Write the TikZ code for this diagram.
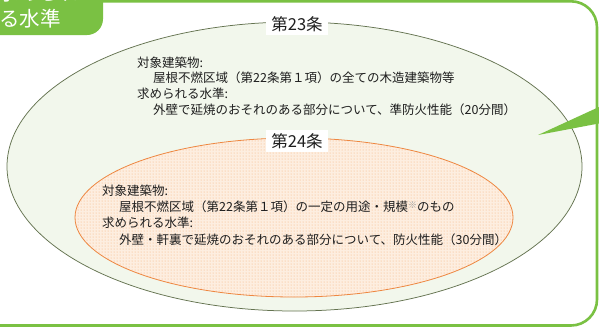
\documentclass[tikz,border=0pt]{standalone}
\usepackage{fontspec}
\setmainfont{Noto Sans CJK JP}
\usetikzlibrary{patterns}
\definecolor{gbox}{RGB}{122,193,67}
\definecolor{efill}{RGB}{242,247,236}
\definecolor{eline}{RGB}{100,115,80}
\definecolor{oline}{RGB}{238,135,65}
\definecolor{obase}{RGB}{253,238,224}
\definecolor{odot}{RGB}{245,176,118}
\definecolor{txt}{RGB}{30,30,30}
\tikzset{
  bodytext/.style={anchor=base west, inner sep=0pt, text=txt, font=\fontsize{12.5}{14}\selectfont},
  article/.style={fill=white, text=txt, inner xsep=5pt, inner ysep=3pt, font=\fontsize{16.5}{18}\selectfont},
  tabtext/.style={anchor=base west, inner sep=0pt, text=white, font=\fontsize{20.5}{22}\selectfont}
}
\begin{document}
\begin{tikzpicture}[x=1pt,y=-1pt]
\useasboundingbox (0,0) rectangle (599,327);
\clip (0,0) rectangle (599,327);
\fill[white] (0,0) rectangle (599,327);
% panel frame
\draw[gbox, line width=2.6pt, rounded corners=26pt] (-40,1.3) -- (597,1.3) -- (597,325.5) -- (-40,325.5);
% tab
\fill[gbox, rounded corners=16pt] (-40,-40) -- (103,-40) -- (103,35) -- (-40,35) -- cycle;
\node[tabtext] (tab1) at (-2,0.5) {求められ};
\node[tabtext] (tab2) at (-1,26) {る水準};
% outer ellipse
\draw[eline, fill=efill, line width=0.75pt] (294.5,166.5) ellipse [x radius=287.5pt, y radius=144.5pt];
% inner ellipse
\fill[obase] (294,217.5) ellipse [x radius=219pt, y radius=79.5pt];
\fill[pattern=dots, pattern color=odot] (294,217.5) ellipse [x radius=219pt, y radius=79.5pt];
\draw[oline, line width=0.8pt] (294,217.5) ellipse [x radius=219pt, y radius=79.5pt];
% pointer wedge
\fill[gbox] (538,135) -- (612,101) -- (612,121) -- cycle;
% labels
\node[article] (a23) at (297,24) {第23条};
\node[article] (a24) at (297,141) {第24条};
% outer text
\node[bodytext] (o1) at (137,67.5) {対象建築物:};
\node[bodytext] (o2) at (153,82.5) {屋根不燃区域（第22条第１項）の全ての木造建築物等};
\node[bodytext] (o3) at (137,98.5) {求められる水準:};
\node[bodytext] (o4) at (153,114.5) {外壁で延焼のおそれのある部分について、準防火性能（20分間）};
% inner text
\node[bodytext] (i1) at (102,195) {対象建築物:};
\node[bodytext] (i2) at (119,211.5) {屋根不燃区域（第22条第１項）の一定の用途・規模\raisebox{3pt}{\color{gray!80}\fontsize{9}{9}\selectfont ※}のもの};
\node[bodytext] (i3) at (102,227.5) {求められる水準:};
\node[bodytext] (i4) at (119,244) {外壁・軒裏で延焼のおそれのある部分について、防火性能（30分間）};
\end{tikzpicture}
\end{document}
